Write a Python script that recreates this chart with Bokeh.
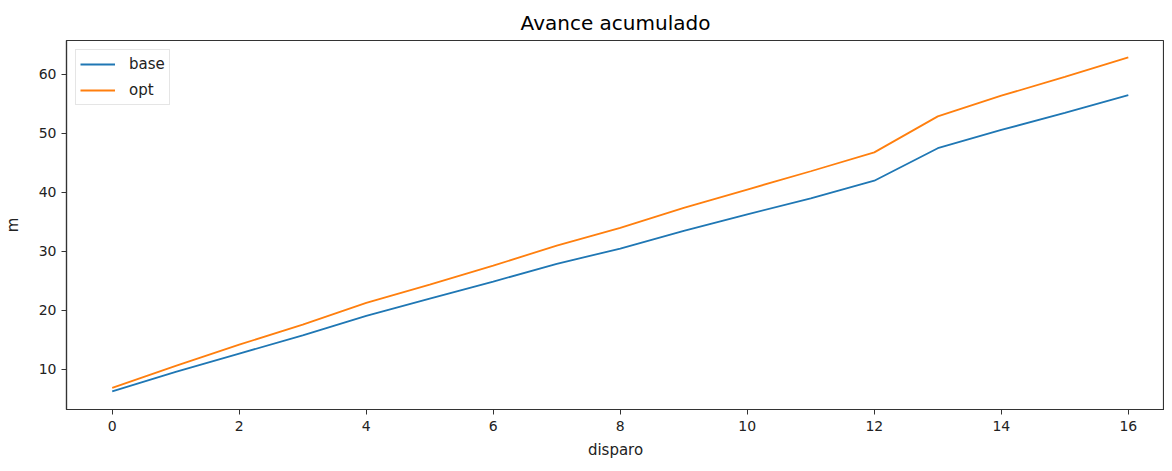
from bokeh.plotting import figure
from bokeh.models import Range1d, FixedTicker, Legend, LegendItem
from bokeh.embed import file_html
from bokeh.resources import INLINE

disparo = [0, 1, 2, 3, 4, 5, 6, 7, 8, 9, 10, 11, 12, 13, 14, 15, 16]
base = [6.3, 9.6, 12.7, 15.8, 19.1, 22.0, 24.9, 27.9, 30.5, 33.5, 36.3, 39.0, 42.0, 47.5, 50.6, 53.5, 56.5]
opt = [6.9, 10.6, 14.2, 17.6, 21.3, 24.4, 27.6, 31.0, 34.0, 37.4, 40.5, 43.6, 46.8, 52.9, 56.4, 59.6, 62.9]
x_ticks = [0, 2, 4, 6, 8, 10, 12, 14, 16]
y_ticks = [10, 20, 30, 40, 50, 60]

FONT = "DejaVu Sans"

p = figure(width=1164, height=463, output_backend="svg", toolbar_location=None,
           x_range=Range1d(-0.72, 16.57), y_range=Range1d(3.22, 65.76),
           title="Avance acumulado", x_axis_label="disparo", y_axis_label="m")
p.min_border_left = 62
p.min_border_right = 0
p.min_border_top = 40
p.min_border_bottom = 54

p.title.align = "center"
p.title.text_font = FONT
p.title.text_font_size = "20px"
p.title.text_font_style = "normal"
p.title.text_color = "#000000"
p.title.standoff = 11

p.grid.visible = False
p.outline_line_color = "#333333"
p.outline_line_width = 1.2
p.background_fill_color = "white"
p.border_fill_color = "white"

for ax in (p.xaxis[0], p.yaxis[0]):
    ax.axis_line_color = "#333333"
    ax.axis_line_width = 1.2
    ax.major_tick_in = 0
    ax.major_tick_out = 5
    ax.minor_tick_line_color = None
    ax.major_tick_line_color = "#333333"
    ax.major_label_text_font = FONT
    ax.major_label_text_font_size = "14px"
    ax.major_label_text_color = "#222222"
    ax.axis_label_text_font = FONT
    ax.axis_label_text_font_size = "15px"
    ax.axis_label_text_font_style = "normal"
    ax.axis_label_text_color = "#222222"

p.xaxis[0].ticker = FixedTicker(ticks=x_ticks)
p.yaxis[0].ticker = FixedTicker(ticks=y_ticks)
p.xaxis[0].major_label_standoff = 6
p.yaxis[0].major_label_standoff = 5
p.xaxis[0].axis_label_standoff = 7
p.yaxis[0].axis_label_standoff = 14

r1 = p.line(disparo, base, line_color="#1f77b4", line_width=1.8)
r2 = p.line(disparo, opt, line_color="#ff7f0e", line_width=1.8)

legend = Legend(items=[LegendItem(label="base", renderers=[r1]),
                       LegendItem(label="opt", renderers=[r2])],
                location="top_left")
legend.label_text_font = FONT
legend.label_text_font_size = "15px"
legend.label_text_color = "#222222"
legend.glyph_width = 35
legend.glyph_height = 20
legend.label_height = 20
legend.label_standoff = 14
legend.spacing = 6
legend.padding = 4
legend.margin = 9
legend.border_line_color = "#cccccc"
legend.border_line_width = 1
legend.background_fill_alpha = 0.8
p.add_layout(legend)

open("out.html", "w").write(file_html(p, INLINE))
